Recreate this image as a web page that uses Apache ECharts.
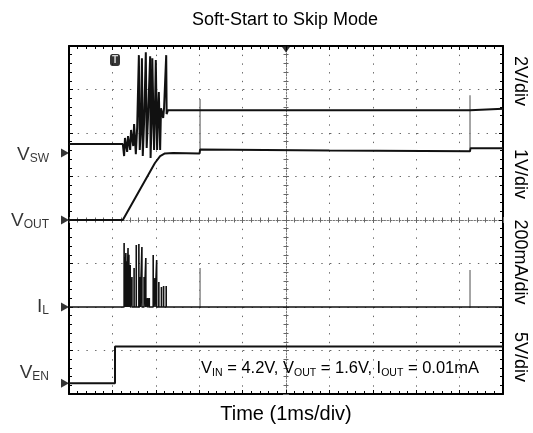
<!DOCTYPE html>
<html>
<head>
<meta charset="utf-8">
<title>Soft-Start to Skip Mode</title>
<script src="https://cdn.jsdelivr.net/npm/echarts@6/dist/echarts.min.js"></script>
<style>
  html, body { margin: 0; padding: 0; background: #fff; }
  #chart { width: 533px; height: 433px; }
</style>
</head>
<body>
<div id="chart"></div>
<script>
// scope screen: 10 divisions of 1 ms across, 8 divisions up
const FONT = '"Liberation Sans", Arial, sans-serif'

// channels: VSW, VOUT, IL, VEN
const chMain = ['V', 'V', 'I', 'V']
const chSub = ['SW', 'OUT', 'L', 'EN']
const chPerDiv = [2, 1, 200, 5]          // V/div, V/div, mA/div, V/div
const chOffset = [5.54, 4, 2, 0.25]      // ground marker, divisions from bottom
const scaleLabels = ['2V/div', '1V/div', '200mA/div', '5V/div']

// [time ms, volts]
const vswPoints = [
  [0, 0.41], [1.24, 0.41], [1.27, -0.14], [1.29, 0.69], [1.34, 0.05], [1.36, 0.78],
  [1.41, 0.14], [1.43, 1.06], [1.48, 0.32], [1.50, 1.33], [1.54, -0.05], [1.57, 1.15],
  [1.61, 4.50], [1.63, 0.14], [1.66, 1.24], [1.68, 4.36], [1.70, -0.14], [1.73, 1.42],
  [1.77, 4.63], [1.79, 0.23], [1.82, 1.61], [1.87, 4.45], [1.88, -0.23], [1.91, 1.88],
  [1.92, 4.36], [1.94, 4.27], [1.96, 0.14], [1.98, 1.74], [2.00, 4.27], [2.03, 0.14],
  [2.05, 1.88], [2.07, 2.80], [2.10, 0.14], [2.12, 2.06], [2.17, 1.61], [2.19, 2.06],
  [2.24, 4.50], [2.25, 1.79], [2.28, 1.97], [9.24, 1.97], [9.25, 2.04], [10, 2.04]
]
const voutPoints = [
  [0, 0], [1.24, 0], [1.98, 1.31], [2.10, 1.47], [2.21, 1.53], [2.4, 1.54], [3.01, 1.53],
  [3.02, 1.62], [6, 1.6], [9.24, 1.58], [9.25, 1.65], [10, 1.65]
]
// inductor current pulses during soft-start, mA
const ilSpikeTimes = [1.27, 1.29, 1.31, 1.33, 1.36, 1.38, 1.41, 1.45, 1.50, 1.55, 1.61, 1.64,
  1.68, 1.73, 1.77, 1.81, 1.85, 1.94, 1.98, 2.02, 2.07, 2.13, 2.18, 2.24]
const ilSpikePeaks = [294, 230, 248, 210, 271, 240, 193, 138, 179, 285, 290, 138,
  276, 138, 225, 41, 41, 239, 133, 216, 115, 92, 97, 97]
const venPoints = [[0, 0], [1.06, 0], [1.06, 4.2], [10, 4.2]]

// skip-mode pulses (drawn grey)
const glitchTimes = [3.02, 9.24]
const vswGlitchLow = [0.14, 0.23]
const vswGlitchHigh = [2.48, 2.66]
const ilGlitchPeaks = [179, 170]

const triggerTime = 1.06

function toScreen(points, ch) {
  return points.map(p => [p[0], chOffset[ch] + p[1] / chPerDiv[ch]])
}

const ilPoints = [[0, 0]]
ilSpikeTimes.forEach((t, i) => ilPoints.push([t, 0], [t, ilSpikePeaks[i]], [t, 0]))
ilPoints.push([10, 0])

function trace(data, color, width, z) {
  return {
    type: 'line',
    data: data,
    symbol: 'none',
    silent: true,
    animation: false,
    z: z,
    lineStyle: { color: color, width: width }
  }
}

const series = [
  trace(toScreen(vswPoints, 0), '#111', 2, 5),
  trace(toScreen(voutPoints, 1), '#111', 2, 5),
  trace(toScreen(ilPoints, 2), '#111', 1.6, 5),
  trace(toScreen(venPoints, 3), '#111', 2, 5)
]
glitchTimes.forEach((t, i) => {
  series.push(trace(toScreen([[t, vswGlitchLow[i]], [t, vswGlitchHigh[i]]], 0), '#888', 1.5, 4))
  series.push(trace(toScreen([[t, 0], [t, ilGlitchPeaks[i]]], 2), '#888', 1.5, 4))
})

// channel ground markers with names
const labelShift = [2, 1, 0, -10]
series.push({
  type: 'scatter',
  clip: false,
  silent: true,
  animation: false,
  z: 10,
  symbol: 'triangle',
  symbolSize: [9, 8],
  symbolRotate: -90,
  symbolOffset: [-4, 0],
  itemStyle: { color: '#000' },
  data: chOffset.map((y, i) => ({ value: [0, y], label: { offset: [0, labelShift[i]] } })),
  label: {
    show: true,
    position: 'left',
    distance: 12,
    formatter: p => '{v|' + chMain[p.dataIndex] + '}{s|' + chSub[p.dataIndex] + '}',
    rich: {
      v: { fontSize: 19, fontFamily: FONT, color: '#000', verticalAlign: 'bottom', padding: [0, 0, 1, 0] },
      s: { fontSize: 12, fontFamily: FONT, color: '#000', verticalAlign: 'bottom' }
    }
  }
})
// trigger badge and horizontal position marker
series.push({
  type: 'scatter',
  clip: false,
  silent: true,
  animation: false,
  z: 10,
  symbol: 'roundRect',
  symbolSize: [10, 12],
  itemStyle: { color: '#000' },
  data: [[triggerTime, 7.68]],
  label: { show: true, position: 'inside', formatter: 'T', color: '#fff', fontSize: 10, fontWeight: 'bold', fontFamily: FONT }
})
series.push({
  type: 'scatter',
  clip: false,
  silent: true,
  animation: false,
  z: 10,
  symbol: 'triangle',
  symbolSize: [10, 7],
  symbolRotate: 180,
  symbolOffset: [0, 3],
  itemStyle: { color: '#000' },
  data: [[5, 8]]
})

const frameLine = { show: true, onZero: false, lineStyle: { color: '#000', width: 2 } }
const frameTick = { show: true, inside: true, length: 4, lineStyle: { color: '#000', width: 1 } }
const frameMinor = { show: true, splitNumber: 5, length: 3, lineStyle: { color: '#000', width: 1 } }
const centerLine = { show: true, onZero: false, lineStyle: { color: '#777', width: 1, type: [1.5, 1.5] } }
const centerMinor = { show: true, splitNumber: 5, length: 2.5, lineStyle: { color: '#666', width: 1 } }
const dotted = { show: true, lineStyle: { color: '#666', width: 1, type: [1.4, 7.3] } }
const noLabel = { show: false }

function axis(position, max, extra) {
  return Object.assign({
    type: 'value', position: position, min: 0, max: max, interval: 1,
    axisLabel: noLabel, splitLine: { show: false }
  }, extra)
}

const option = {
  backgroundColor: '#fff',
  animation: false,
  grid: { left: 69, right: 30, top: 46, bottom: 39, containLabel: false, outerBoundsMode: 'none' },
  xAxis: [
    axis('bottom', 10, {
      axisLine: frameLine, axisTick: frameTick, minorTick: frameMinor, splitLine: dotted,
      name: 'Time (1ms/div)', nameLocation: 'middle', nameGap: 10, nameMoveOverlap: false,
      nameTextStyle: { fontSize: 20, fontFamily: FONT, color: '#000', verticalAlign: 'top' }
    }),
    axis('top', 10, { axisLine: frameLine, axisTick: frameTick, minorTick: frameMinor }),
    axis('bottom', 10, { offset: -174, axisLine: centerLine,
      axisTick: { show: true, inside: true, length: 3, lineStyle: { color: '#666' } }, minorTick: centerMinor }),
    axis('bottom', 10, { offset: -174, axisLine: { show: false },
      axisTick: { show: true, inside: false, length: 3, lineStyle: { color: '#666' } }, minorTick: centerMinor })
  ],
  yAxis: [
    axis('left', 8, { axisLine: frameLine, axisTick: frameTick, minorTick: frameMinor, splitLine: dotted }),
    axis('right', 8, { axisLine: frameLine, axisTick: frameTick, minorTick: frameMinor }),
    axis('left', 8, { offset: -217, axisLine: centerLine,
      axisTick: { show: true, inside: true, length: 3, lineStyle: { color: '#666' } }, minorTick: centerMinor }),
    axis('left', 8, { offset: -217, axisLine: { show: false },
      axisTick: { show: true, inside: false, length: 3, lineStyle: { color: '#666' } }, minorTick: centerMinor })
  ],
  graphic: [
    {
      type: 'text', x: 285, y: 20, silent: true,
      style: { text: 'Soft-Start to Skip Mode', fontSize: 18, fontFamily: FONT, fill: '#000', align: 'center', verticalAlign: 'middle' }
    },
    {
      type: 'text', x: 479, y: 369, silent: true, z: 20,
      style: {
        text: '{m|V}{s|IN}{m| = 4.2V, V}{s|OUT}{m| = 1.6V, I}{s|OUT}{m| = 0.01mA}',
        align: 'right', verticalAlign: 'middle',
        rich: {
          m: { fontSize: 16.5, fontFamily: FONT, fill: '#000', verticalAlign: 'bottom', padding: [0, 0, 2, 0] },
          s: { fontSize: 10.5, fontFamily: FONT, fill: '#000', verticalAlign: 'bottom' }
        }
      }
    }
  ].concat(scaleLabels.map((s, i) => ({
    type: 'text', x: 520, y: [81, 174, 262, 357][i], rotation: -Math.PI / 2, silent: true,
    style: { text: s, fontSize: 18, fontFamily: FONT, fill: '#000', align: 'center', verticalAlign: 'middle' }
  }))),
  series: series
}

const chart = echarts.init(document.getElementById('chart'), null, { renderer: 'canvas' })
chart.setOption(option)
</script>
</body>
</html>
